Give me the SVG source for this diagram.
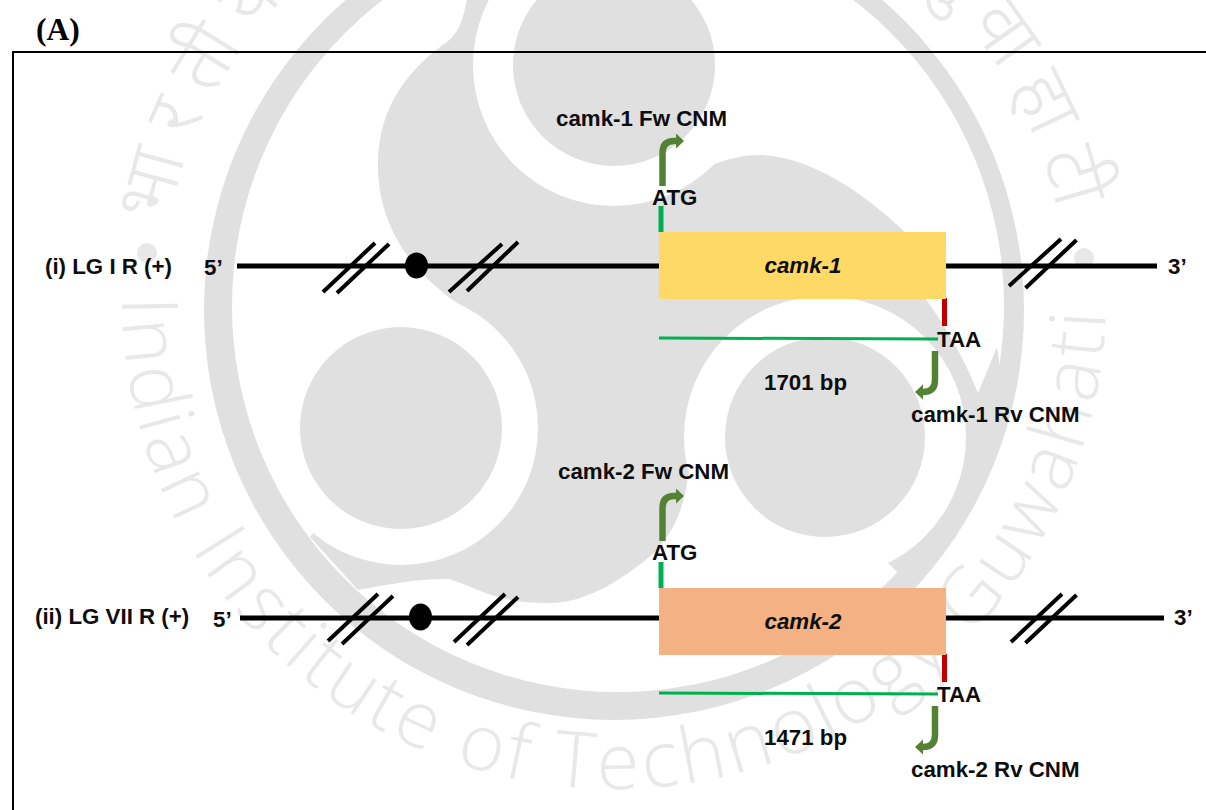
<svg xmlns="http://www.w3.org/2000/svg" width="1206" height="810" viewBox="0 0 1206 810">
<style>
text{font-family:"Liberation Sans",Arial,sans-serif;font-weight:bold;font-size:22.300px;fill:#0d0d0d}
.g{fill:#e0e0e0}.w{fill:#fff}
.wm{font-family:"Open Sans","Noto Sans",sans-serif;font-weight:300;font-size:78px;fill:#e8e8e8}
.wh{font-family:"Noto Sans Devanagari","Noto Sans","Lohit Devanagari",sans-serif;font-weight:300;font-size:78px;fill:#e8e8e8}
.ln{stroke:#000;stroke-width:5;fill:none}
.sl{stroke:#000;stroke-width:4;fill:none}
.st{stroke:#00b050;stroke-width:5;fill:none}
.hl{stroke:#00b050;stroke-width:3;fill:none}
.rd{stroke:#c00000;stroke-width:5;fill:none}
.ar{stroke:#548235;stroke-width:6.500;fill:none;marker-end:url(#h)}
</style>
<defs>
<marker id="h" markerUnits="userSpaceOnUse" markerWidth="9" markerHeight="16" refX="1" refY="7.500" orient="auto"><path d="M0 0L8 7.500L0 15Z" fill="#548235"/></marker>
<path id="pe" d="M122 297A492 492 0 0 0 1106 297"/>
<path id="ph" d="M168 225A454 454 0 0 1 1060 225"/>
</defs>
<rect width="1206" height="810" fill="#fff"/>
<g id="watermark">
<circle class="g" cx="614" cy="310" r="410"/>
<circle class="w" cx="618" cy="306" r="386"/>
<path class="g" d="M468 -10C465 15 460 32 447 42C410 68 378 105 378 165C378 225 410 268 450 298L480 320L401 428L310 537L358 590C390 584 420 578 450 579C480 590 500 603 545 603C585 605 625 578 655 552C675 530 685 505 688 475L825 500L900 575L975 480L1005 400L997 347L978 393C965 360 945 325 925 298C918 270 915 245 905 232C860 190 810 157 760 155C745 155 730 158 712 165L614 65L600 -10Z"/>
<circle class="w" cx="614" cy="65" r="141"/>
<circle class="w" cx="401" cy="428" r="137"/>
<circle class="w" cx="825" cy="437" r="141"/>
<circle class="g" cx="614" cy="65" r="101"/>
<circle class="g" cx="401" cy="428" r="101"/>
<circle class="g" cx="825" cy="437" r="100"/>
<text class="wm"><textPath href="#pe" textLength="1530" lengthAdjust="spacing">Indian Institute of Technology Guwahati</textPath></text>
<text class="wh"><textPath href="#ph" textLength="1240" lengthAdjust="spacing">भारतीय प्रौद्योगिकी संस्थान गुवाहाटी</textPath></text>
<circle cx="147" cy="253" r="10" fill="#e8e8e8"/>
<circle cx="1084" cy="258" r="10" fill="#e8e8e8"/>
</g>
<path id="frame" d="M13 810V52H1206" fill="none" stroke="#000" stroke-width="2"/>
<text x="36" y="40" style="font-family:'Liberation Serif','Times New Roman',serif;font-size:31.500px;fill:#000">(A)</text>
<g id="connectors">
<path class="ln" d="M237 266H659M946 266H1157"/>
<path class="sl" d="M323 292L375 243M337 293L389 244M449 292L502 244M467 291L518 242M1009 286L1061 239M1025.500 288L1076.500 240"/>
<path class="st" d="M661 206V232"/>
<path class="ar" d="M662.500 186V153Q662.500 141 674 141H677"/>
<path class="rd" d="M944.500 298V326"/>
<path class="hl" d="M659 338L938 339"/>
<path class="ar" d="M935 351V380Q935 392 923 392H922"/>
<path class="ln" d="M240 618H659M946 618H1164"/>
<path class="sl" d="M328 641L378 594M342 644L393 596M454 642L505 594M467 645L518 597M1011 642L1062 594M1025.500 643L1076.500 595"/>
<path class="st" d="M661 562V588"/>
<path class="ar" d="M662.500 541V508Q662.500 496 674 496H677"/>
<path class="rd" d="M944.500 654V682"/>
<path class="hl" d="M659 693L938 694"/>
<path class="ar" d="M935 706V735Q935 747 923 747H922"/>
</g>
<g id="node-centromere-1"><ellipse cx="416.500" cy="265.500" rx="11.500" ry="13" fill="#000"/></g>
<g id="node-centromere-2"><ellipse cx="420.500" cy="617" rx="11.500" ry="13.500" fill="#000"/></g>
<g id="node-camk-1"><rect x="659" y="232" width="287" height="67" fill="#ffd966"/><text x="803" y="273" text-anchor="middle" font-style="italic">camk-1</text></g>
<g id="node-camk-2"><rect x="659" y="588" width="287" height="67" fill="#f4b183"/><text x="803" y="629" text-anchor="middle" font-style="italic">camk-2</text></g>
<g id="labels-1">
<text x="45" y="274">(i) LG I R (+)</text>
<text x="204" y="275">5’</text>
<text x="1168" y="274">3’</text>
<text x="556" y="126">camk-1 Fw CNM</text>
<text x="652" y="205">ATG</text>
<text x="937" y="347">TAA</text>
<text x="764" y="390">1701 bp</text>
<text x="911" y="422">camk-1 Rv CNM</text>
</g>
<g id="labels-2">
<text x="35" y="624">(ii) LG VII R (+)</text>
<text x="213" y="627">5’</text>
<text x="1174" y="625">3’</text>
<text x="558" y="479">camk-2 Fw CNM</text>
<text x="652" y="560">ATG</text>
<text x="937" y="702">TAA</text>
<text x="764" y="745">1471 bp</text>
<text x="911" y="777">camk-2 Rv CNM</text>
</g>
</svg>
